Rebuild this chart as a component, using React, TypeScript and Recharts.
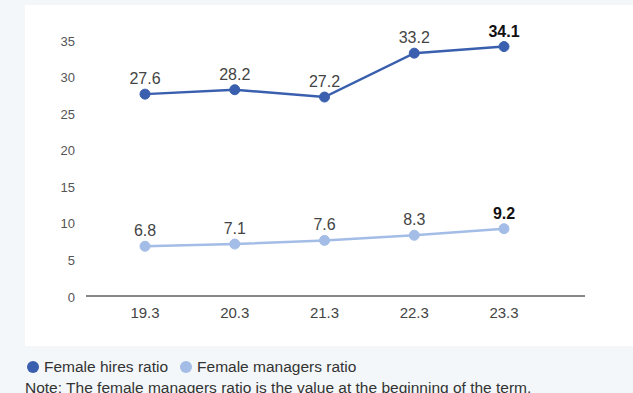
import React from "react";
import { LineChart, Line, XAxis, YAxis, LabelList } from "recharts";

const periods = ["19.3", "20.3", "21.3", "22.3", "23.3"];
const femaleHiresRatio = [27.6, 28.2, 27.2, 33.2, 34.1];
const femaleManagersRatio = [6.8, 7.1, 7.6, 8.3, 9.2];
const yTicks = [0, 5, 10, 15, 20, 25, 30, 35];

const HIRES_COLOR = "#3a5fae";
const MANAGERS_COLOR = "#a3bde6";
const FONT = "'Liberation Sans', Arial, Helvetica, sans-serif";

const rows = periods.map((p, i) => ({
  period: p,
  hires: femaleHiresRatio[i],
  managers: femaleManagersRatio[i],
}));

const lastIndex = periods.length - 1;

// Value above each point; the latest period is emphasised.
const ValueLabel = (props: any) => {
  const { x, y, value, index } = props;
  const isLast = index === lastIndex;
  return (
    <text
      x={x}
      y={y - 10}
      textAnchor="middle"
      fontFamily={FONT}
      fontSize={16}
      fontWeight={isLast ? 700 : 400}
      fill={isLast ? "#111" : "#444"}
    >
      {value.toFixed(1)}
    </text>
  );
};

const LegendItem = ({ color, label }: { color: string; label: string }) => (
  <span style={{ display: "inline-flex", alignItems: "center", marginRight: 12 }}>
    <span
      style={{
        display: "inline-block",
        width: 12,
        height: 12,
        borderRadius: "50%",
        background: color,
        marginRight: 5,
      }}
    />
    <span>{label}</span>
  </span>
);

export default function App() {
  return (
    <div
      style={{
        position: "fixed",
        left: 0,
        top: 0,
        width: 633,
        height: 393,
        background: "#f4f7f9",
        overflow: "hidden",
        fontFamily: FONT,
      }}
    >
      <div
        style={{
          position: "absolute",
          left: 25,
          top: 5,
          width: 608,
          height: 341,
          background: "#ffffff",
        }}
      >
        <LineChart
          width={608}
          height={341}
          data={rows}
          margin={{ top: 35, right: 48, bottom: 20, left: 0 }}
        >
          <XAxis
            dataKey="period"
            tickLine={false}
            tickSize={0}
            tickMargin={11}
            axisLine={{ stroke: "#111", strokeWidth: 1 }}
            padding={{ left: 59, right: 81 }}
            tick={{ fill: "#444", fontSize: 15, fontFamily: FONT }}
            height={30}
          />
          <YAxis
            domain={[0, 35]}
            ticks={yTicks}
            width={61}
            axisLine={false}
            tickLine={false}
            tickSize={0}
            tickMargin={11}
            tick={{ fill: "#555", fontSize: 13, fontFamily: FONT, dy: 1 }}
          />
          <Line
            dataKey="hires"
            stroke={HIRES_COLOR}
            strokeWidth={2.5}
            dot={{ r: 5, fill: HIRES_COLOR, stroke: HIRES_COLOR, strokeWidth: 1 }}
            isAnimationActive={false}
          >
            <LabelList dataKey="hires" content={ValueLabel} />
          </Line>
          <Line
            dataKey="managers"
            stroke={MANAGERS_COLOR}
            strokeWidth={2.5}
            dot={{ r: 5, fill: MANAGERS_COLOR, stroke: MANAGERS_COLOR, strokeWidth: 1 }}
            isAnimationActive={false}
          >
            <LabelList dataKey="managers" content={ValueLabel} />
          </Line>
        </LineChart>
      </div>
      <div
        style={{
          position: "absolute",
          left: 27,
          top: 358,
          fontSize: 15.5,
          color: "#333",
          lineHeight: "18px",
          whiteSpace: "nowrap",
        }}
      >
        <LegendItem color={HIRES_COLOR} label="Female hires ratio" />
        <LegendItem color={MANAGERS_COLOR} label="Female managers ratio" />
      </div>
      <div
        style={{
          position: "absolute",
          left: 25,
          top: 379,
          fontSize: 15.5,
          color: "#333",
          lineHeight: "18px",
          whiteSpace: "nowrap",
        }}
      >
        Note: The female managers ratio is the value at the beginning of the term.
      </div>
    </div>
  );
}
